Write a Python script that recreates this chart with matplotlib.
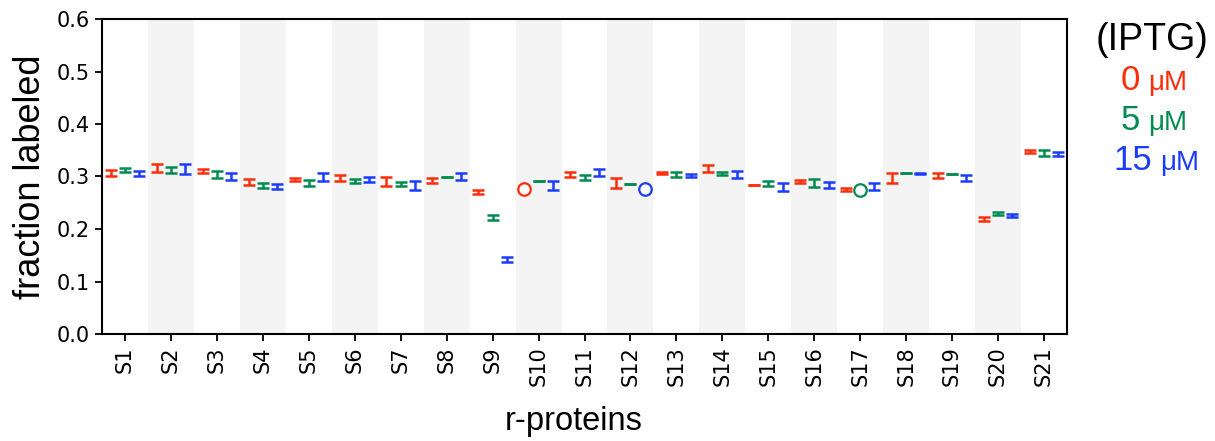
import numpy as np
import matplotlib.pyplot as plt

plt.rcParams['font.family'] = 'DejaVu Sans'

# r-protein categories
proteins = ['S%d' % i for i in range(1, 22)]

# mean fraction labeled per IPTG condition
mean_0 = [0.307, 0.316, 0.310, 0.289, 0.295, 0.297, 0.290, 0.293, 0.270, 0.277, 0.304,
          0.288, 0.306, 0.315, 0.283, 0.290, 0.276, 0.297, 0.302, 0.219, 0.347]
mean_5 = [0.313, 0.312, 0.304, 0.283, 0.288, 0.291, 0.286, 0.299, 0.222, 0.292, 0.298,
          0.285, 0.304, 0.306, 0.286, 0.288, 0.275, 0.306, 0.304, 0.230, 0.345]
mean_15 = [0.306, 0.314, 0.300, 0.281, 0.299, 0.294, 0.283, 0.300, 0.142, 0.283, 0.308,
           0.276, 0.302, 0.304, 0.280, 0.284, 0.281, 0.305, 0.297, 0.226, 0.343]

# error (nan = single measurement, drawn as open circle)
err_0 = [0.006, 0.007, 0.004, 0.006, 0.003, 0.005, 0.009, 0.005, 0.004, np.nan, 0.005,
         0.009, 0.002, 0.006, 0.0, 0.003, 0.003, 0.010, 0.004, 0.004, 0.003]
err_5 = [0.004, 0.006, 0.007, 0.005, 0.006, 0.004, 0.004, 0.0, 0.005, 0.0, 0.005,
         0.0, 0.004, 0.003, 0.005, 0.008, np.nan, 0.0, 0.0, 0.003, 0.005]
err_15 = [0.005, 0.010, 0.007, 0.004, 0.008, 0.005, 0.009, 0.006, 0.004, 0.009, 0.007,
          np.nan, 0.003, 0.006, 0.007, 0.005, 0.006, 0.001, 0.005, 0.003, 0.003]

conditions = ['0', '5', '15']
colors = ['#ff2d0a', '#008c50', '#1a3cff']
offsets = [-0.31, 0.0, 0.31]

fig = plt.figure(figsize=(12.15, 4.41), dpi=100)
ax = fig.add_axes([102/1215, 1-334/441, (1067-102)/1215, (334-19)/441])

x = np.arange(len(proteins))
for i in x:
    if i % 2 == 1:
        ax.axvspan(i-0.5, i+0.5, color='#f4f4f4', zorder=0, lw=0)

for means, errs, c, off in zip([mean_0, mean_5, mean_15], [err_0, err_5, err_15], colors, offsets):
    means = np.array(means)
    errs = np.array(errs)
    ok = ~np.isnan(errs)
    ax.errorbar(x[ok] + off, means[ok], yerr=errs[ok], fmt='none', ecolor=c,
                elinewidth=1.8, capsize=4.5, capthick=1.8, zorder=3)
    ax.plot(x[~ok] + off, means[~ok], 'o', mfc='white', mec=c, mew=1.6, ms=9, zorder=3)

ax.set_xlim(-0.5, len(proteins)-0.5)
ax.set_ylim(0, 0.6)
ax.set_yticks(np.arange(0, 0.61, 0.1))
ax.set_yticklabels(['%.1f' % v for v in np.arange(0, 0.61, 0.1)])
ax.set_xticks(x)
ax.set_xticklabels(proteins, rotation=90)
ax.tick_params(axis='both', direction='out', length=5, width=1.3, labelsize=15, pad=4)
for s in ax.spines.values():
    s.set_linewidth(1.5)

ax.set_ylabel('fraction labeled', fontsize=26, family='Liberation Sans', labelpad=6)
fig.text(574/1215, 1-430/441, 'r-proteins', fontsize=23.5, family='Liberation Sans',
         ha='center', va='baseline')

# legend text (IPTG)
fig.text(1152/1215, 1-50/441, '(IPTG)', fontsize=27, family='Liberation Sans',
         ha='center', va='baseline')
splits = [1144, 1144, 1156]
for k, (lab, c, sp) in enumerate(zip(conditions, colors, splits)):
    yb = 1 - (90 + 40*k)/441
    fig.text((sp-4)/1215, yb, lab, fontsize=25, family='Liberation Sans', color=c,
             ha='right', va='baseline')
    fig.text((sp+4)/1215, yb, 'μM', fontsize=20, family='Liberation Sans', color=c,
             ha='left', va='baseline')

fig.savefig('out.png', dpi=100)
